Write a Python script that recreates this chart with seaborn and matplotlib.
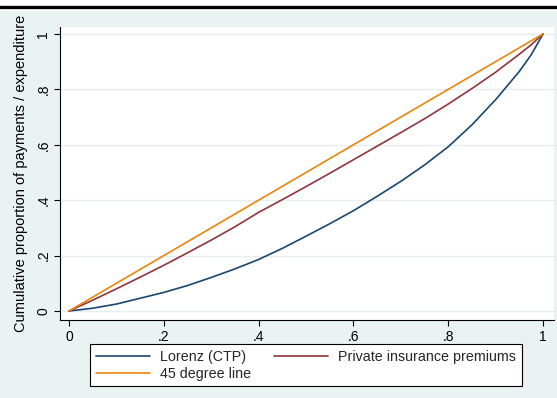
import matplotlib
matplotlib.use("Agg")
import matplotlib.pyplot as plt
import matplotlib.lines as mlines
import matplotlib.patches as mpatches
import numpy as np
import pandas as pd
import seaborn as sns

# Cumulative population share
share = [0.0, 0.05, 0.10, 0.15, 0.20, 0.25, 0.30, 0.35, 0.40, 0.45, 0.50,
         0.55, 0.60, 0.65, 0.70, 0.75, 0.80, 0.85, 0.90, 0.95, 0.975, 1.0]
# Lorenz curve of CTP payments
lorenz_ctp = [0.0, 0.010, 0.025, 0.046, 0.067, 0.092, 0.121, 0.152, 0.186, 0.226, 0.270,
              0.315, 0.362, 0.414, 0.468, 0.527, 0.593, 0.672, 0.763, 0.865, 0.925, 1.0]
# Concentration curve of private insurance premiums
private_prem = [0.0, 0.039, 0.080, 0.122, 0.165, 0.210, 0.256, 0.304, 0.356, 0.402, 0.449,
                0.497, 0.546, 0.595, 0.644, 0.694, 0.747, 0.803, 0.862, 0.927, 0.961, 1.0]
# Line of equality
equality_x = [0.0, 1.0]
equality_y = [0.0, 1.0]

series_names = ["Lorenz (CTP)", "Private insurance premiums", "45 degree line"]
series_colors = ["#1a476f", "#90353b", "#e8850c"]

tick_vals = [0, 0.2, 0.4, 0.6, 0.8, 1.0]
tick_labels = ["0", ".2", ".4", ".6", ".8", "1"]

df = pd.concat([
    pd.DataFrame({"x": share, "y": lorenz_ctp, "series": series_names[0]}),
    pd.DataFrame({"x": share, "y": private_prem, "series": series_names[1]}),
    pd.DataFrame({"x": equality_x, "y": equality_y, "series": series_names[2]}),
], ignore_index=True)

sns.set_theme(style="white")
plt.rcParams["font.family"] = ["Liberation Sans", "DejaVu Sans"]

W, H = 557, 398
fig = plt.figure(figsize=(W / 100, H / 100), dpi=100, facecolor="white")

# Graph region background and the rule across the top
bg = "#eaf2f3"
fig.patches.append(mpatches.Rectangle((0, 0), 1, 1 - 11 / H, transform=fig.transFigure,
                                      facecolor=bg, edgecolor="none", zorder=-10))
fig.lines.append(mlines.Line2D([0, 1], [1 - 6.5 / H] * 2, transform=fig.transFigure,
                               color="black", lw=2.4, zorder=1))

ax = fig.add_axes([60 / W, 1 - 320 / H, (554 - 60) / W, (320 - 27) / H])
ax.set_zorder(2)
ax.set_facecolor("white")

sns.lineplot(data=df, x="x", y="y", hue="series", hue_order=series_names,
             palette=series_colors, linewidth=1.2, legend=False, ax=ax,
             estimator=None, sort=False)

ax.set_xlim(-0.019, 1.023)
ax.set_ylim(-0.0325, 1.025)
ax.set_xticks(tick_vals)
ax.set_xticklabels(tick_labels)
ax.set_yticks(tick_vals)
ax.set_yticklabels(tick_labels, rotation=90, va="center")
ax.tick_params(axis="both", direction="out", length=4, width=0.8, color="black",
               labelsize=10, labelcolor="black", pad=3, left=True, bottom=True)
ax.yaxis.grid(True, color="#e4eef0", linewidth=1.0)
ax.xaxis.grid(False)
ax.set_axisbelow(True)

for side in ["top", "right"]:
    ax.spines[side].set_visible(False)
for side in ["left", "bottom"]:
    ax.spines[side].set_color("black")
    ax.spines[side].set_linewidth(0.8)

ax.set_xlabel("")
ax.set_ylabel("Cumulative proportion of payments / expenditure", fontsize=10.5,
              color="black", labelpad=6)

handles = [mlines.Line2D([], [], color=series_colors[i], lw=1.2) for i in (0, 2, 1)]
labels = [series_names[i] for i in (0, 2, 1)]
leg = fig.legend(handles, labels, ncol=2, loc="upper left",
                 bbox_to_anchor=(90 / W, 1 - 344 / H), frameon=True, fancybox=False,
                 fontsize=10.3, handlelength=3.8, handletextpad=0.7, columnspacing=1.6,
                 labelspacing=0.2, borderpad=0.4, borderaxespad=0, framealpha=1)
leg.get_frame().set_edgecolor("black")
leg.get_frame().set_linewidth(0.8)
leg.get_frame().set_facecolor("white")
leg.set_zorder(3)

fig.savefig("out.png", dpi=100, facecolor=fig.get_facecolor())
